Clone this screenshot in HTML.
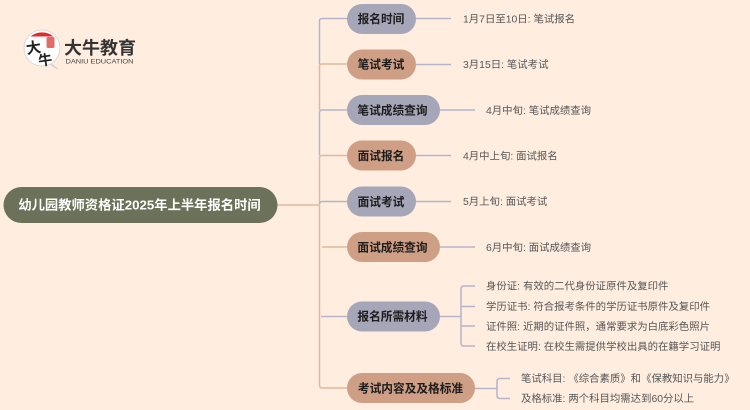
<!DOCTYPE html>
<html lang="zh">
<head>
<meta charset="utf-8">
<style>
html,body{margin:0;padding:0;background:#FFEEE0;}
body{width:750px;height:410px;overflow:hidden;position:relative;}
svg{position:absolute;left:0;top:0;display:block;}
text{font-family:"Liberation Sans","Noto Sans CJK SC",sans-serif;}
.n{font-size:11.7px;font-weight:700;fill:#1c1c1c;text-anchor:middle;}
.l{font-size:10.4px;fill:#555;}
</style>
</head>
<body>
<svg width="750" height="410" viewBox="0 0 750 410" xmlns="http://www.w3.org/2000/svg">
<rect width="750" height="410" fill="#FFEEE0"/>

<!-- logo -->
<path d="M50 63L58 69L52 66z" fill="#fff" stroke="#cfcfcf" stroke-width=".8"/>
<circle cx="42" cy="48" r="18" fill="#fff" stroke="#d4d0cc" stroke-width=".8"/>
<path d="M30.500 36.500a18 18 0 0 1 23 0z" fill="#E02B2B"/>
<rect x="46.500" y="37" width="8" height="11" rx="1.500" fill="#D9534F" opacity=".85"/>
<text x="26" y="53" font-size="15" fill="#222" transform="rotate(-8 34 47)" style="font-family:'Noto Sans CJK SC',sans-serif;font-weight:700">大</text>
<text x="38" y="65" font-size="14" fill="#222" transform="rotate(-8 45 58)" style="font-family:'Noto Sans CJK SC',sans-serif;font-weight:700">牛</text>
<text x="64" y="54" font-size="17.500" font-weight="700" fill="#333" textLength="72" lengthAdjust="spacingAndGlyphs">大牛教育</text>
<text x="65.500" y="63.500" font-size="6.800" fill="#444" textLength="68" lengthAdjust="spacingAndGlyphs">DANIU EDUCATION</text>

<!-- connectors -->
<g fill="none" stroke-width="1.500">
<path d="M277 205H319" stroke="#E3B79D"/>
<path d="M347 64H322Q319.500 64 319.500 66V110" stroke="#E3B79D"/>
<path d="M347 155.500H322Q319.500 155.500 319.500 158V385Q319.500 388 322 388H347" stroke="#E3B79D"/>
<path d="M347 247H322" stroke="#E3B79D"/>
<path d="M347 18.500H322Q319.500 18.500 319.500 21V64" stroke="#B4B4CB"/>
<path d="M347 110H322Q319.500 110 319.500 112.500V155.500" stroke="#B4B4CB"/>
<path d="M347 201.500H322Q320 201.500 319.500 204" stroke="#B4B4CB"/>
<path d="M347 316.500H321" stroke="#B4B4CB"/>
<path d="M416 18.500H451" stroke="#B4B4CB"/>
<path d="M416 64.500H451" stroke="#B4B4CB"/>
<path d="M440 110H475" stroke="#B4B4CB"/>
<path d="M416 155.500H451" stroke="#B4B4CB"/>
<path d="M416 201.500H451" stroke="#B4B4CB"/>
<path d="M440 247H475" stroke="#B4B4CB"/>
<path d="M440 316.500H461" stroke="#B4B4CB"/>
<path d="M475 286H464Q461 286 461 289V343Q461 346 464 346H475M461 306.500H475M461 326H475" stroke="#B4B4CB"/>
<path d="M475 388.500H497" stroke="#B4B4CB"/>
<path d="M510 378.500H500Q497 378.500 497 381.500V395.500Q497 398.500 500 398.500H510" stroke="#B4B4CB"/>
</g>

<!-- root -->
<rect x="3.500" y="187" width="274" height="36" rx="18" fill="#6B7259"/>
<text x="139.500" y="209.500" font-size="13.300" font-weight="700" fill="#fff" text-anchor="middle">幼儿园教师资格证2025年上半年报名时间</text>

<!-- nodes -->
<rect x="347" y="4" width="69" height="30" rx="15" fill="#A6A6B9"/>
<text class="n" x="381" y="23">报名时间</text>
<rect x="347" y="49.500" width="69" height="30" rx="15" fill="#CF9F85"/>
<text class="n" x="381" y="68.500">笔试考试</text>
<rect x="347" y="95" width="93" height="30" rx="15" fill="#A6A6B9"/>
<text class="n" x="392.500" y="114.500">笔试成绩查询</text>
<rect x="347" y="140.500" width="69" height="30" rx="15" fill="#CF9F85"/>
<text class="n" x="381" y="160">面试报名</text>
<rect x="347" y="186.500" width="69" height="30" rx="15" fill="#A6A6B9"/>
<text class="n" x="381" y="206">面试考试</text>
<rect x="347" y="232" width="93" height="30" rx="15" fill="#CF9F85"/>
<text class="n" x="392.500" y="251.500">面试成绩查询</text>
<rect x="347" y="301.500" width="93" height="30" rx="15" fill="#A6A6B9"/>
<text class="n" x="392.500" y="320.500">报名所需材料</text>
<rect x="347" y="373" width="128" height="30" rx="15" fill="#CF9F85"/>
<text class="n" x="410.500" y="392.500">考试内容及及格标准</text>

<!-- leaves -->
<text class="l" x="463" y="22.500">1月7日至10日: 笔试报名</text>
<text class="l" x="463" y="68">3月15日: 笔试考试</text>
<text class="l" x="486" y="114">4月中旬: 笔试成绩查询</text>
<text class="l" x="463" y="159.500">4月中上旬: 面试报名</text>
<text class="l" x="463" y="205">5月上旬: 面试考试</text>
<text class="l" x="486" y="251">6月中旬: 面试成绩查询</text>
<text class="l" x="486" y="289.500">身份证: 有效的二代身份证原件及复印件</text>
<text class="l" x="486" y="310">学历证书: 符合报考条件的学历证书原件及复印件</text>
<text class="l" x="486" y="330">证件照: 近期的证件照，通常要求为白底彩色照片</text>
<text class="l" x="486" y="350">在校生证明: 在校生需提供学校出具的在籍学习证明</text>
<text class="l" x="521" y="382">笔试科目: 《综合素质》和《保教知识与能力》</text>
<text class="l" x="521" y="402">及格标准: 两个科目均需达到60分以上</text>
</svg>
</body>
</html>
